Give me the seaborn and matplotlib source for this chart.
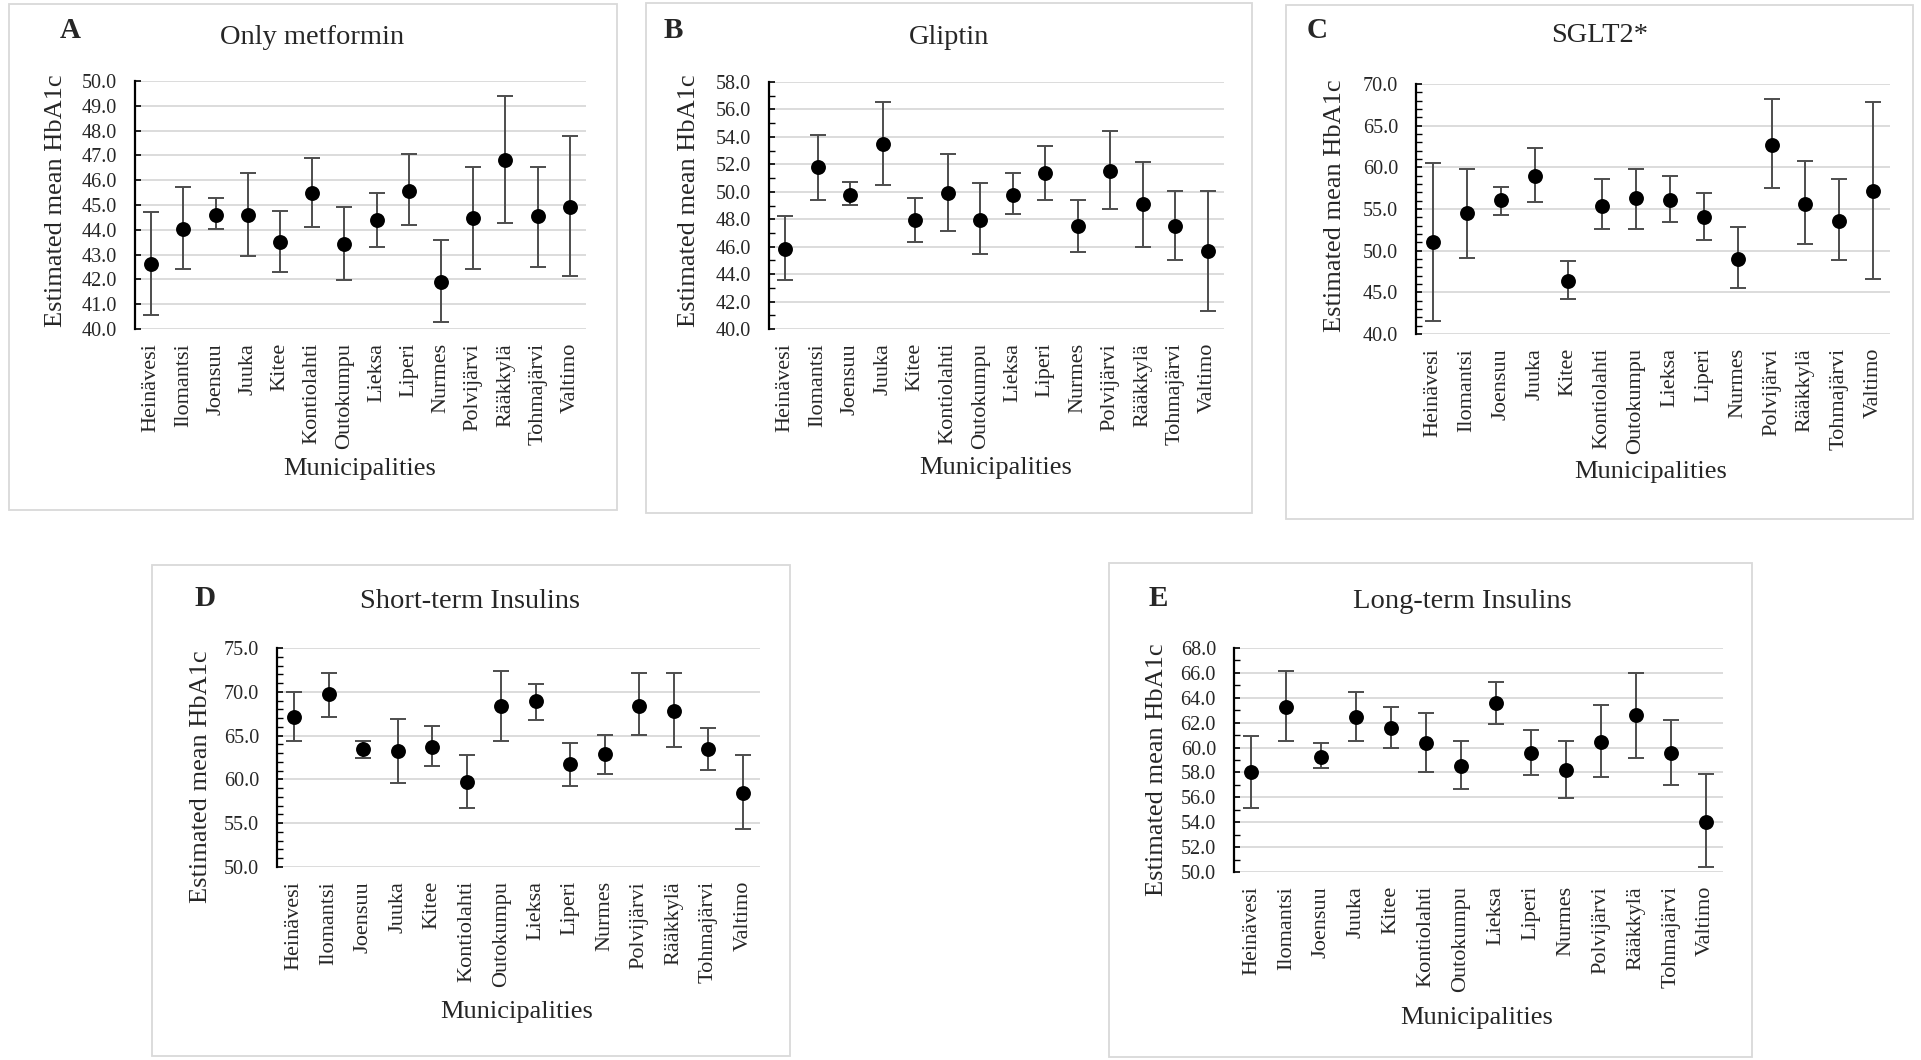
import numpy as np
import pandas as pd
import matplotlib
matplotlib.use("Agg")
import matplotlib.pyplot as plt
from matplotlib.patches import Rectangle
from matplotlib.ticker import MultipleLocator, FormatStrFormatter
import seaborn as sns

municipalities = ["Heinävesi", "Ilomantsi", "Joensuu", "Juuka", "Kitee", "Kontiolahti",
                  "Outokumpu", "Lieksa", "Liperi", "Nurmes", "Polvijärvi", "Rääkkylä",
                  "Tohmajärvi", "Valtimo"]

# A - Only metformin
metformin_mean = [42.63, 44.03, 44.60, 44.60, 43.50, 45.49, 43.44, 44.39, 45.57, 41.89, 44.48, 46.82, 44.55, 44.91]
metformin_low = [40.58, 42.42, 44.03, 42.93, 42.28, 44.11, 41.99, 43.30, 44.20, 40.28, 42.42, 44.26, 42.50, 42.12]
metformin_high = [44.70, 45.72, 45.29, 46.31, 44.77, 46.90, 44.93, 45.50, 47.05, 43.60, 46.54, 49.41, 46.54, 47.79]

# B - Gliptin
gliptin_mean = [45.81, 51.77, 49.79, 53.49, 47.95, 49.94, 47.95, 49.79, 51.39, 47.54, 51.51, 49.13, 47.54, 45.69]
gliptin_low = [43.59, 49.40, 49.06, 50.52, 46.37, 47.14, 45.46, 48.36, 49.40, 45.59, 48.74, 45.96, 45.04, 41.31]
gliptin_high = [48.24, 54.17, 50.73, 56.55, 49.55, 52.72, 50.62, 51.39, 53.35, 49.40, 54.44, 52.18, 50.05, 50.05]

# C - SGLT2*
sglt2_mean = [50.99, 54.54, 56.11, 58.93, 46.35, 55.38, 56.31, 56.11, 54.09, 49.02, 62.71, 55.62, 53.61, 57.15]
sglt2_low = [41.57, 49.06, 54.33, 55.86, 44.18, 52.60, 52.60, 53.45, 51.23, 45.47, 57.48, 50.79, 48.82, 46.60]
sglt2_high = [60.46, 59.85, 57.64, 62.27, 48.78, 58.56, 59.85, 58.97, 56.95, 52.80, 68.19, 60.74, 58.56, 67.79]

# D - Short-term Insulins
short_mean = [67.16, 69.79, 63.51, 63.20, 63.66, 59.74, 68.42, 68.91, 61.72, 62.86, 68.42, 67.81, 63.51, 58.49]
short_low = [64.35, 67.16, 62.44, 59.59, 61.53, 56.77, 64.35, 66.74, 59.21, 60.65, 65.03, 63.74, 61.11, 54.34]
short_high = [69.98, 72.15, 64.35, 66.93, 66.06, 62.82, 72.37, 70.89, 64.12, 65.03, 72.15, 72.15, 65.87, 62.82]

# E - Long-term Insulins
long_mean = [58.04, 63.26, 59.27, 62.46, 61.57, 60.34, 58.50, 63.56, 59.57, 58.17, 60.48, 62.62, 59.59, 54.05]
long_low = [55.18, 60.53, 58.36, 60.53, 59.94, 58.04, 56.70, 61.90, 57.77, 55.93, 57.61, 59.16, 57.02, 50.44]
long_high = [60.96, 66.15, 60.34, 64.49, 63.26, 62.81, 60.53, 65.24, 61.42, 60.53, 63.39, 66.02, 62.22, 57.91]

W, H = 1921, 1060
FONT = ["Liberation Serif", "DejaVu Serif"]

sns.set_theme(style="white")
plt.rcParams["font.family"] = FONT

fig = plt.figure(figsize=(W / 100, H / 100), dpi=100)
fig.patch.set_facecolor("white")

# letter, title, data, ylim, major, minor, axes box (l, r, t, b), panel box (l, r, t, b), label positions
panels = [
    ("A", "Only metformin", metformin_mean, metformin_low, metformin_high, (40, 50), 1, None,
     (135, 586, 81, 329), (9, 617, 4, 510), (70, 30), (312, 37), (56, 201), (360, 469)),
    ("B", "Gliptin", gliptin_mean, gliptin_low, gliptin_high, (40, 58), 2, 1,
     (769, 1224, 82, 329), (646, 1252, 3, 513), (673, 30), (949, 37), (689, 201), (996, 468)),
    ("C", "SGLT2*", sglt2_mean, sglt2_low, sglt2_high, (40, 70), 5, 1,
     (1416, 1890, 84, 334), (1286, 1913, 5, 519), (1317, 30), (1600, 35), (1335, 206), (1651, 472)),
    ("D", "Short-term Insulins", short_mean, short_low, short_high, (50, 75), 5, 1,
     (277, 760, 648, 867), (152, 790, 565, 1056), (205, 598), (470, 601), (201, 777), (517, 1012)),
    ("E", "Long-term Insulins", long_mean, long_low, long_high, (50, 68), 2, 1,
     (1234, 1723, 648, 872), (1109, 1752, 563, 1057), (1158, 598), (1462, 601), (1157, 770), (1477, 1018)),
]

for (letter, title, mean, low, high, ylim, major, minor, abox, pbox,
     letter_pos, title_pos, ylab_pos, xlab_pos) in panels:
    # panel frame
    pl, pr, pt, pb = pbox
    fig.add_artist(Rectangle((pl / W, 1 - pb / H), (pr - pl) / W, (pb - pt) / H,
                             transform=fig.transFigure, fill=False,
                             edgecolor="#d9d9d9", linewidth=1.3))

    l, r, t, b = abox
    ax = fig.add_axes([l / W, 1 - b / H, (r - l) / W, (b - t) / H])

    df = pd.DataFrame({"Municipality": municipalities, "mean": mean, "low": low, "high": high})
    yerr = [df["mean"] - df["low"], df["high"] - df["mean"]]
    ax.errorbar(df["Municipality"], df["mean"], yerr=yerr, fmt="none", ecolor="#4d4d4d",
                elinewidth=1.4, capsize=5.5, capthick=1.4, zorder=2)
    sns.scatterplot(data=df, x="Municipality", y="mean", ax=ax, color="black",
                    s=115, linewidth=0, zorder=3, legend=False)

    ax.set_xlim(-0.5, len(municipalities) - 0.5)
    ax.set_ylim(*ylim)
    ax.yaxis.set_major_locator(MultipleLocator(major))
    if minor:
        ax.yaxis.set_minor_locator(MultipleLocator(minor))
    ax.yaxis.set_major_formatter(FormatStrFormatter("%.1f"))

    ax.yaxis.grid(True, color="#d9d9d9", linewidth=1.3)
    ax.xaxis.grid(False)
    ax.set_axisbelow(True)
    for side in ["top", "right", "bottom"]:
        ax.spines[side].set_visible(False)
    ax.spines["left"].set_color("black")
    ax.spines["left"].set_linewidth(1.6)

    ax.tick_params(axis="y", which="major", direction="in", length=4, width=1.2,
                   color="black", labelsize=14.5, pad=13, left=True)
    ax.tick_params(axis="y", which="minor", direction="in", length=4, width=1.0,
                   color="black", left=True)
    ax.tick_params(axis="x", length=0, labelsize=16, pad=10, rotation=90)

    ax.set_xlabel("")
    ax.set_ylabel("")

    fig.text(letter_pos[0] / W, 1 - letter_pos[1] / H, letter, fontsize=21,
             fontweight="bold", ha="center", va="center")
    fig.text(title_pos[0] / W, 1 - title_pos[1] / H, title, fontsize=20.5,
             ha="center", va="center")
    fig.text(ylab_pos[0] / W, 1 - ylab_pos[1] / H, "Estimated mean HbA1c", fontsize=19,
             rotation=90, ha="center", va="center")
    fig.text(xlab_pos[0] / W, 1 - xlab_pos[1] / H, "Municipalities", fontsize=19,
             ha="center", va="center")

fig.savefig("out.png", dpi=100, facecolor="white")
